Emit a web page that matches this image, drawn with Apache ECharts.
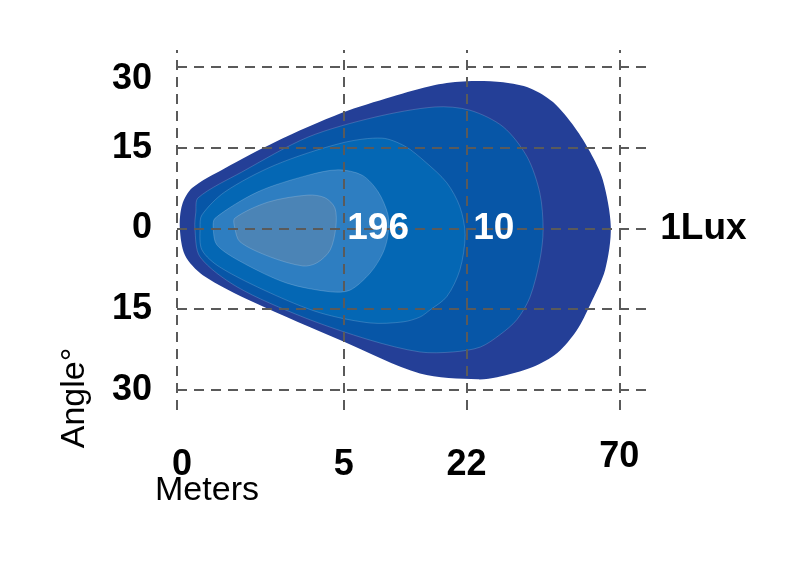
<!DOCTYPE html>
<html>
<head>
<meta charset="utf-8">
<script src="https://cdn.jsdelivr.net/npm/echarts@6/dist/echarts.min.js"></script>
<style>
    html, body { margin: 0; padding: 0; background: #fff; }
    #beamChart { width: 800px; height: 569px; }
</style>
</head>
<body>
<div id="beamChart"></div>
<script>
"use strict";

// horizontal axis: plot units 0..100, distance ticks placed on it
var xTickPos = [0, 35.5, 61.6, 94.1];
var xTickLabels = ["0", "5", "22", "70"];

// vertical axis: angle in degrees
var yTickValues = [30, 15, 0, -15, -30];

// iso-lux contours [x unit, angle], from outer (1 lux) to inner
var contourOuter = [
    [0.6, 0.1], [1.1, 4.4], [3.2, 7.5], [10.2, 11.2], [20.9, 16.1], [35.1, 21.5],
    [45.7, 24.5], [54.9, 26.7], [61.7, 27.4], [69.4, 27.2], [75.1, 26.1], [80.0, 23.5],
    [84.7, 18.7], [87.9, 14.2], [90.6, 9.0], [92.3, 0.3], [91.1, -7.7], [87.9, -14.2],
    [85.1, -18.9], [80.9, -23.2], [75.7, -25.8], [68.1, -27.7], [64.0, -28.1], [51.7, -27.0],
    [35.3, -21.0], [16.2, -13.7], [5.5, -8.7], [1.7, -5.0]
];
var contourSecond = [
    [3.8, 0.1], [4.0, 3.0], [4.5, 5.7], [13.8, 10.5], [27.9, 17.0], [42.1, 20.7],
    [54.9, 22.6], [62.3, 22.0], [69.4, 18.9], [74.5, 13.3], [77.2, 6.6], [77.9, -0.3],
    [77.2, -5.9], [75.1, -12.8], [72.3, -17.0], [68.7, -19.8], [64.5, -22.1], [58.7, -23.0],
    [51.7, -23.0], [41.1, -20.8], [26.8, -16.5], [12.8, -10.9], [4.9, -5.3]
];
var contourThird = [
    [4.9, 0.1], [5.3, 2.5], [10.2, 6.8], [20.9, 11.8], [35.1, 15.9], [43.6, 16.8],
    [48.5, 15.3], [52.8, 12.4], [57.4, 8.5], [60.2, 4.0], [61.3, -1.2], [60.2, -7.7],
    [57.4, -12.7], [53.8, -15.2], [51.7, -16.5], [48.1, -17.4], [41.1, -17.6], [30.4, -15.7],
    [19.8, -12.0], [9.1, -7.2], [5.3, -4.0]
];
var contourFourth = [
    [7.7, 0.1], [8.1, 1.9], [17.2, 6.8], [27.9, 9.9], [34.3, 10.9], [39.4, 9.9],
    [42.8, 6.8], [44.9, 2.5], [44.9, -1.2], [43.8, -4.6], [41.1, -8.3], [36.8, -11.5],
    [32.6, -11.8], [23.4, -10.2], [14.0, -6.4], [8.5, -3.1]
];
var contourInner = [
    [12.3, 0.1], [12.3, 1.9], [19.4, 4.9], [27.9, 6.2], [31.5, 5.7], [33.6, 3.8],
    [33.8, 0.3], [32.6, -4.0], [29.8, -6.4], [26.8, -7.0], [19.8, -5.3], [13.4, -2.5]
];

// lux value labels and where they sit on the 0 degree line
var luxLabels = ["196", "10", "1Lux"];
var luxLabelX = [42.8, 67.4, 112.0];

var contours = [contourOuter, contourSecond, contourThird, contourFourth, contourInner];
var contourColors = ["#243f97", "#0756a7", "#0467b4", "#2e7ec1", "#4b84b6"];
var labelColors = ["#ffffff", "#ffffff", "#000000"];
var fontFamily = "Arial, 'Liberation Sans', sans-serif";

var chart = echarts.init(document.getElementById("beamChart"));

var gridLines = [];
xTickPos.forEach(function (x) {
    gridLines.push({xAxis: x});
});
yTickValues.forEach(function (y) {
    gridLines.push({yAxis: y});
});

var options = {
    animation: false,
    backgroundColor: "#ffffff",
    grid: {
        left: 177,
        top: 50,
        width: 470,
        height: 360,
        outerBoundsMode: "none"
    },
    xAxis: {
        type: "value",
        min: 0,
        max: 100,
        axisLine: {show: false},
        axisTick: {show: false},
        splitLine: {show: false},
        axisLabel: {
            customValues: xTickPos,
            margin: 29,
            color: "#000",
            fontSize: 36,
            fontWeight: "bold",
            fontFamily: fontFamily,
            formatter: function (value) {
                var i = xTickPos.indexOf(value);
                if (i < 0) {
                    return "";
                }
                if (i === 0) {
                    return "{first|" + xTickLabels[i] + "}";
                }
                if (i === xTickLabels.length - 1) {
                    return xTickLabels[i];
                }
                return "{low|" + xTickLabels[i] + "}";
            },
            rich: {
                first: {padding: [8, 0, 0, 10]},
                low: {padding: [8, 0, 0, 0]}
            }
        }
    },
    yAxis: {
        type: "value",
        min: -33.8,
        max: 33.2,
        axisLine: {show: false},
        axisTick: {show: false},
        splitLine: {show: false},
        axisLabel: {
            customValues: yTickValues,
            margin: 25,
            color: "#000",
            fontSize: 36,
            fontWeight: "bold",
            fontFamily: fontFamily,
            formatter: function (value) {
                var text = String(Math.abs(value));
                return value === yTickValues[0] ? "{top|" + text + "}" : text;
            },
            rich: {
                top: {padding: [24, 0, 0, 0]}
            }
        }
    },
    graphic: [
        {
            type: "text",
            x: 207,
            y: 491,
            style: {
                text: "Meters",
                fill: "#000",
                font: "34px " + fontFamily,
                align: "center",
                verticalAlign: "middle"
            }
        },
        {
            type: "text",
            x: 75,
            y: 398,
            rotation: Math.PI / 2,
            style: {
                text: "Angle°",
                fill: "#000",
                font: "34px " + fontFamily,
                align: "center",
                verticalAlign: "middle"
            }
        }
    ],
    series: [
        {
            name: "contours",
            type: "custom",
            silent: true,
            z: 1,
            data: contours.map(function (c, i) { return [i]; }),
            renderItem: function (params, api) {
                var idx = params.dataIndex;
                var pts = contours[idx].map(function (p) {
                    return api.coord(p);
                });
                return {
                    type: "polygon",
                    shape: {points: pts, smooth: 0.3},
                    style: {
                        fill: contourColors[idx],
                        stroke: idx ? "rgba(255,255,255,0.22)" : null,
                        lineWidth: idx ? 0.8 : 0
                    }
                };
            }
        },
        {
            name: "grid",
            type: "line",
            data: [],
            z: 2,
            silent: true,
            markLine: {
                silent: true,
                z: 2,
                symbol: "none",
                animation: false,
                label: {show: false},
                lineStyle: {
                    color: "#5a5a5a",
                    width: 2,
                    type: [10, 7]
                },
                data: gridLines
            }
        },
        {
            name: "lux",
            type: "custom",
            silent: true,
            clip: false,
            z: 10,
            data: luxLabels.map(function (t, i) { return [i]; }),
            renderItem: function (params, api) {
                var idx = params.dataIndex;
                var pt = api.coord([luxLabelX[idx], 0]);
                return {
                    type: "text",
                    x: pt[0],
                    y: pt[1],
                    style: {
                        text: luxLabels[idx],
                        fill: labelColors[idx],
                        font: "bold 37px " + fontFamily,
                        align: "center",
                        verticalAlign: "middle"
                    }
                };
            }
        }
    ]
};

chart.setOption(options);
</script>
</body>
</html>
